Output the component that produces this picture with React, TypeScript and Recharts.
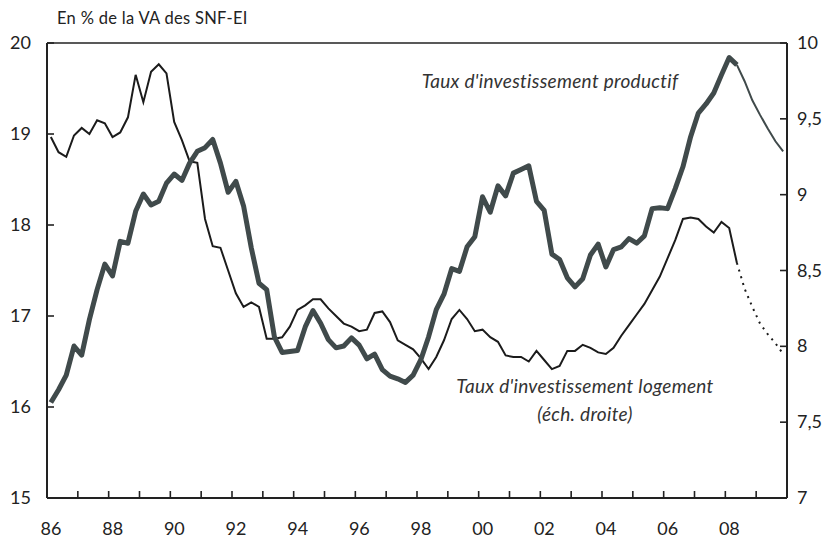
import React from 'react';
import { ComposedChart, Line, XAxis, YAxis, ReferenceLine } from 'recharts';

// trimestres 1986T1 -> 2009T4
const startYear = 1986;
const forecastFrom = 89; // index du trimestre ou commence la prevision (2008T2)

// Taux d'investissement productif, en % de la VA (echelle gauche)
const tauxProductif = [
  16.05, 16.19, 16.35, 16.67, 16.57, 16.96, 17.29, 17.57,
  17.44, 17.82, 17.8, 18.15, 18.34, 18.22, 18.26, 18.46,
  18.56, 18.49, 18.68, 18.81, 18.85, 18.94, 18.68, 18.36,
  18.48, 18.21, 17.75, 17.36, 17.29, 16.77, 16.6, 16.61,
  16.62, 16.88, 17.06, 16.92, 16.74, 16.65, 16.67, 16.76,
  16.68, 16.53, 16.58, 16.41, 16.34, 16.31, 16.27, 16.35,
  16.52, 16.77, 17.07, 17.24, 17.52, 17.49, 17.76, 17.87,
  18.31, 18.14, 18.43, 18.32, 18.57, 18.61, 18.65, 18.26,
  18.16, 17.68, 17.62, 17.42, 17.32, 17.41, 17.67, 17.79,
  17.54, 17.73, 17.76, 17.85, 17.8, 17.88, 18.18, 18.19,
  18.18, 18.4, 18.64, 18.97, 19.23, 19.33, 19.45, 19.65,
  19.84, 19.76, 19.58, 19.37, 19.21, 19.06, 18.92, 18.81,
];

// Taux d'investissement logement (echelle droite)
const tauxLogement = [
  9.38, 9.28, 9.25, 9.39, 9.44, 9.4, 9.49, 9.47,
  9.38, 9.41, 9.51, 9.79, 9.61, 9.81, 9.86, 9.8,
  9.48, 9.36, 9.22, 9.21, 8.84, 8.66, 8.65, 8.5,
  8.35, 8.26, 8.29, 8.26, 8.05, 8.05, 8.06, 8.13,
  8.24, 8.27, 8.31, 8.31, 8.25, 8.2, 8.15, 8.13,
  8.1, 8.11, 8.22, 8.23, 8.16, 8.04, 8.01, 7.98,
  7.92, 7.85, 7.93, 8.04, 8.18, 8.24, 8.18, 8.1,
  8.11, 8.06, 8.03, 7.94, 7.93, 7.93, 7.9, 7.97,
  7.91, 7.85, 7.87, 7.97, 7.97, 8.01, 7.99, 7.96,
  7.95, 7.99, 8.07, 8.14, 8.21, 8.28, 8.37, 8.46,
  8.58, 8.7, 8.84, 8.85, 8.84, 8.79, 8.75, 8.82,
  8.78, 8.55, 8.38, 8.26, 8.15, 8.08, 8.02, 7.95,
];

const yearTicks = [
  1986, 1987, 1988, 1989, 1990, 1991, 1992, 1993, 1994, 1995, 1996, 1997,
  1998, 1999, 2000, 2001, 2002, 2003, 2004, 2005, 2006, 2007, 2008, 2009,
];
const leftTicks = [15, 16, 17, 18, 19, 20];
const rightTicks = [7, 7.5, 8, 8.5, 9, 9.5, 10];

const data = tauxProductif.map((v, i) => ({
  t: startYear + (i + 0.5) / 4,
  prod: i <= forecastFrom ? v : null,
  prodPrev: i >= forecastFrom ? v : null,
  logt: i <= forecastFrom ? tauxLogement[i] : null,
  logtPrev: i >= forecastFrom ? tauxLogement[i] : null,
}));

const FONT = 'Lato, "Open Sans", sans-serif';
const AXIS = '#222';
const GRAY = '#404a4b';
const INK = '#1b1b1b';

const BottomTick = ({ x, y, payload }: any) => {
  const yr = payload.value as number;
  return (
    <g>
      <line x1={x} x2={x} y1={y} y2={y - 7} stroke={AXIS} strokeWidth={1.6} />
      {yr % 2 === 0 && (
        <text x={x + 4} y={y + 37} textAnchor="middle" fontSize={18} fill="#222" fontFamily={FONT}>
          {String(yr % 100).padStart(2, '0')}
        </text>
      )}
    </g>
  );
};

const LeftTick = ({ x, y, payload }: any) => (
  <g>
    <line x1={x} x2={x + 7} y1={y} y2={y} stroke={AXIS} strokeWidth={1.6} />
    <text x={x - 16} y={y + 6} textAnchor="end" fontSize={18} fill="#222" fontFamily={FONT}>
      {payload.value}
    </text>
  </g>
);

const RightTick = ({ x, y, payload }: any) => (
  <g>
    <line x1={x} x2={x - 7} y1={y} y2={y} stroke={AXIS} strokeWidth={1.6} />
    <text x={x + 10} y={y + 6} textAnchor="start" fontSize={18} fill="#222" fontFamily={FONT}>
      {String(payload.value).replace('.', ',')}
    </text>
  </g>
);

export default function App() {
  return (
    <div style={{ position: 'absolute', left: 0, top: 0, background: '#fff' }}>
      <ComposedChart
        width={833}
        height={542}
        data={data}
        margin={{ top: 43, right: 6, bottom: 4, left: 7 }}
      >
        <XAxis
          dataKey="t"
          type="number"
          domain={[1986, 2010]}
          ticks={yearTicks}
          interval={0}
          height={40}
          tickSize={0}
          tickMargin={0}
          tickLine={false}
          tick={<BottomTick />}
          axisLine={{ stroke: AXIS, strokeWidth: 2 }}
        />
        <YAxis
          yAxisId="left"
          orientation="left"
          domain={[15, 20]}
          ticks={leftTicks}
          interval={0}
          width={40}
          tickSize={0}
          tickMargin={0}
          tickLine={false}
          tick={<LeftTick />}
          axisLine={{ stroke: AXIS, strokeWidth: 2 }}
        />
        <YAxis
          yAxisId="right"
          orientation="right"
          domain={[7, 10]}
          ticks={rightTicks}
          interval={0}
          width={40}
          tickSize={0}
          tickMargin={0}
          tickLine={false}
          tick={<RightTick />}
          axisLine={{ stroke: AXIS, strokeWidth: 2 }}
        />
        <ReferenceLine yAxisId="left" y={20} stroke={AXIS} strokeWidth={1.4} />

        <Line yAxisId="right" dataKey="logt" type="linear" stroke={INK} strokeWidth={2} dot={false} activeDot={false} isAnimationActive={false} />
        <Line yAxisId="right" dataKey="logtPrev" type="linear" stroke={INK} strokeWidth={2} strokeDasharray="2 5" dot={false} activeDot={false} isAnimationActive={false} />
        <Line yAxisId="left" dataKey="prod" type="linear" stroke={GRAY} strokeWidth={5} strokeLinejoin="round" dot={false} activeDot={false} isAnimationActive={false} />
        <Line yAxisId="left" dataKey="prodPrev" type="linear" stroke={GRAY} strokeWidth={2} dot={false} activeDot={false} isAnimationActive={false} />

        <text x={57} y={24} fontSize={16.5} letterSpacing={0.3} fill="#222" fontFamily={FONT}>
          En % de la VA des SNF-EI
        </text>
        <text x={550} y={88} textAnchor="middle" fontSize={19} letterSpacing={0.3} fontStyle="italic" fill="#333" fontFamily={FONT}>
          Taux d'investissement productif
        </text>
        <text x={585} y={393} textAnchor="middle" fontSize={19} letterSpacing={0.3} fontStyle="italic" fill="#333" fontFamily={FONT}>
          Taux d'investissement logement
        </text>
        <text x={585} y={421} textAnchor="middle" fontSize={19} letterSpacing={0.3} fontStyle="italic" fill="#333" fontFamily={FONT}>
          (éch. droite)
        </text>
      </ComposedChart>
    </div>
  );
}
